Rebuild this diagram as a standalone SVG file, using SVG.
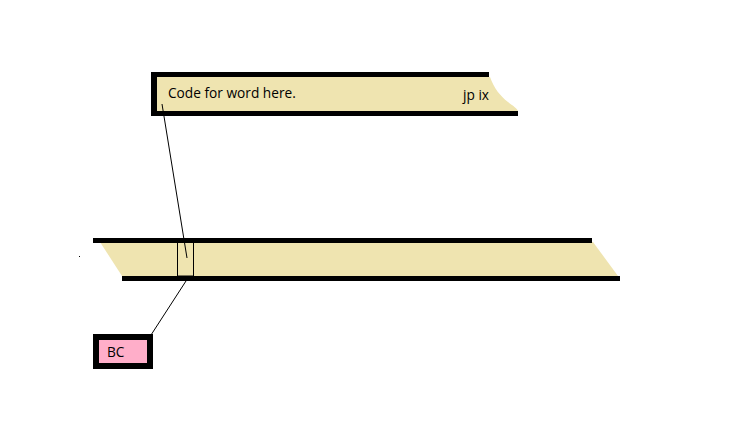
<svg xmlns="http://www.w3.org/2000/svg" width="748" height="443" viewBox="0 0 748 443">
<style>
.tan{fill:#EFE4B0}
.blk{fill:#000}
.lbl{font-family:"Open Sans","Noto Sans","DejaVu Sans",sans-serif;font-size:13.7px;fill:#000}
.conn{stroke:#000;stroke-width:1;fill:none}
</style>
<rect x="0" y="0" width="748" height="443" fill="#fff"/>
<g id="code-box">
<path class="tan" d="M157,77 L490,77 C494,88 500,96 508,102 C513,106 517,108 518,111 L157,111 Z"/>
<rect class="blk" x="151" y="72" width="338" height="5"/>
<rect class="blk" x="151" y="72" width="6" height="44"/>
<rect class="blk" x="151" y="111" width="367" height="5"/>
<text class="lbl" x="168" y="98">Code for word here.</text>
<text class="lbl" x="463" y="100">jp ix</text>
</g>
<g id="bar">
<path class="tan" d="M100,242 L593,242 L618,276 L122,276 Z"/>
<rect class="blk" x="93" y="238" width="499" height="5"/>
<rect class="blk" x="122" y="276" width="498" height="5"/>
<rect x="177.5" y="242" width="16" height="34" fill="none" stroke="#000" stroke-width="1"/>
<rect class="blk" x="79" y="256" width="1" height="1"/>
</g>
<g id="bc-box">
<rect x="96" y="337" width="54" height="29" fill="#FFAEC9" stroke="#000" stroke-width="6"/>
<text class="lbl" x="107" y="357">BC</text>
</g>
<g id="connectors">
<line class="conn" x1="162" y1="104" x2="187" y2="258"/>
<line class="conn" x1="186" y1="281" x2="151" y2="335"/>
</g>
</svg>
